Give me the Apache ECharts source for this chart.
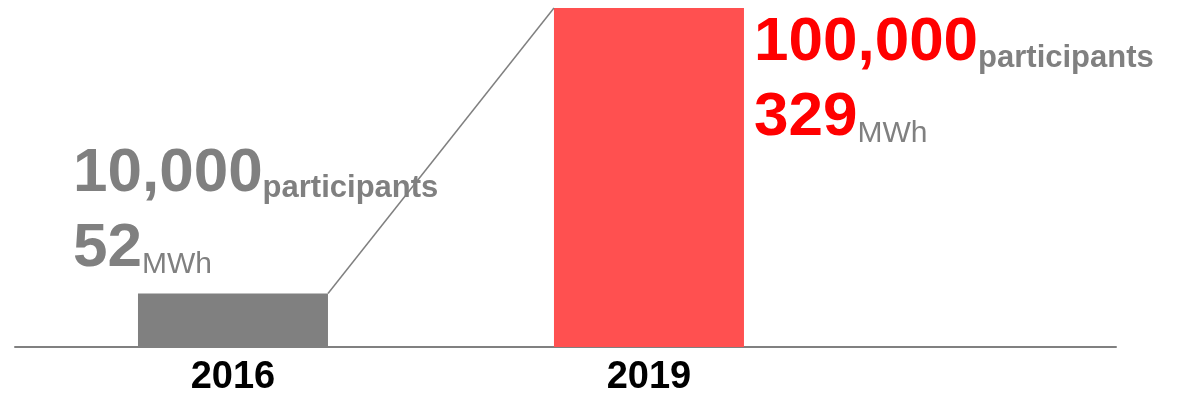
<!DOCTYPE html>
<html>
<head>
<meta charset="utf-8">
<script src="https://cdn.jsdelivr.net/npm/echarts@6/dist/echarts.min.js"></script>
<style>
html,body{margin:0;padding:0;background:#fff;}
#c{width:1188px;height:397px;}
</style>
</head>
<body>
<div id="c"></div>
<script>
// ---- data ----
const years = [2016, 2019];
const mwh = [52, 329];
const participants = ['10,000', '100,000'];
const unitParticipants = 'participants';
const unitEnergy = 'MWh';

// ---- styling ----
const FONT = "'Liberation Sans', Arial, sans-serif";
const BAR_W = 190;
const GRAY = '#808080';
const barColors = ['#808080', '#ff5050'];
const numColors = ['#808080', '#ff0000'];

function richFor(i) {
  return {
    big: { fontFamily: FONT, fontSize: 62, fontWeight: 'bold', color: numColors[i], lineHeight: 75, verticalAlign: 'bottom' },
    sb: { fontFamily: FONT, fontSize: 31, fontWeight: 'bold', color: GRAY, lineHeight: 53, verticalAlign: 'bottom' },
    sn: { fontFamily: FONT, fontSize: 30, fontWeight: 'normal', color: GRAY, lineHeight: 52, verticalAlign: 'bottom' }
  };
}
const labelPositions = [[0, 0], ['100%', 0]];
const labelOffsets = [[-65, -164], [10, -9]];

const barData = years.map((y, i) => ({
  value: [y, mwh[i]],
  itemStyle: { color: barColors[i] },
  label: {
    show: true,
    position: labelPositions[i],
    offset: labelOffsets[i],
    align: 'left',
    verticalAlign: 'top',
    formatter: '{big|' + participants[i] + '}{sb|' + unitParticipants + '}\n{big|' + mwh[i] + '}{sn|' + unitEnergy + '}',
    rich: richFor(i)
  }
}));

const chart = echarts.init(document.getElementById('c'), null, { renderer: 'canvas' });
chart.setOption({
  animation: false,
  backgroundColor: '#ffffff',
  grid: { left: 15, right: 72, top: 8, bottom: 48.5, containLabel: false },
  xAxis: {
    type: 'value',
    min: 2014.428,
    max: 2022.368,
    splitLine: { show: false },
    axisTick: { show: false },
    axisLine: { show: true, lineStyle: { color: GRAY, width: 2 } },
    axisLabel: {
      customValues: years,
      formatter: v => String(v),
      fontFamily: FONT, fontSize: 38, fontWeight: 'bold', color: '#000000', margin: 12
    }
  },
  yAxis: {
    type: 'value', min: 0, max: 329, show: false, splitLine: { show: false }
  },
  series: [
    {
      type: 'bar',
      barWidth: BAR_W,
      data: barData,
      z: 2
    },
    {
      type: 'custom',
      z: 3,
      encode: { x: [0, 2], y: [1, 3] },
      data: [[years[0], mwh[0], years[1], mwh[1]]],
      renderItem: function (params, api) {
        const a = api.coord([api.value(0), api.value(1)]);
        const b = api.coord([api.value(2), api.value(3)]);
        return {
          type: 'line',
          shape: { x1: a[0] + BAR_W / 2, y1: a[1], x2: b[0] - BAR_W / 2, y2: b[1] },
          style: { stroke: GRAY, lineWidth: 1.5 }
        };
      }
    }
  ]
});
</script>
</body>
</html>
